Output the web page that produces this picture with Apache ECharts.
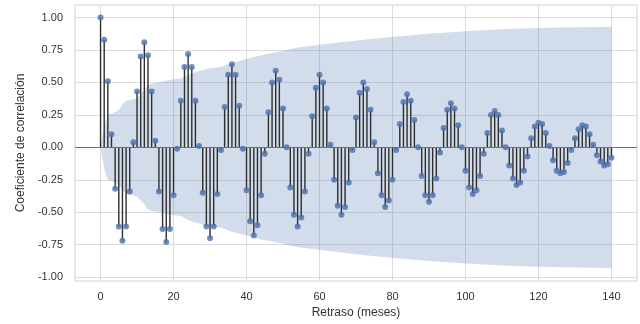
<!DOCTYPE html>
<html>
<head>
<meta charset="utf-8">
<script src="https://cdn.jsdelivr.net/npm/echarts@6/dist/echarts.min.js"></script>
<style>
  html, body { margin: 0; padding: 0; background: #fff; }
  #chart { width: 640px; height: 324px; }
</style>
</head>
<body>
<div id="chart"></div>
<script>
// valores de autocorrelación, retrasos 0..140
var acf = [
  1.00, 0.83, 0.51, 0.10, -0.32, -0.61, -0.72, -0.61, -0.34, 0.04,
  0.43, 0.70, 0.81, 0.71, 0.43, 0.05, -0.34, -0.63, -0.73, -0.63,
  -0.37, -0.01, 0.36, 0.62, 0.72, 0.62, 0.36, 0.01, -0.35, -0.61,
  -0.70, -0.61, -0.36, -0.02, 0.31, 0.56, 0.64, 0.56, 0.32, -0.01,
  -0.33, -0.57, -0.68, -0.60, -0.37, -0.05, 0.27, 0.50, 0.59, 0.52,
  0.30, 0.00, -0.31, -0.52, -0.61, -0.54, -0.34, -0.05, 0.24, 0.46,
  0.56, 0.50, 0.30, 0.02, -0.25, -0.45, -0.52, -0.46, -0.27, -0.02,
  0.23, 0.42, 0.50, 0.45, 0.29, 0.04, -0.20, -0.37, -0.46, -0.41,
  -0.25, -0.02, 0.18, 0.35, 0.41, 0.36, 0.21, 0.00, -0.22, -0.37,
  -0.42, -0.37, -0.24, -0.04, 0.15, 0.29, 0.34, 0.30, 0.17, 0.00,
  -0.18, -0.31, -0.36, -0.33, -0.22, -0.05, 0.11, 0.25, 0.28, 0.25,
  0.13, 0.00, -0.14, -0.24, -0.29, -0.27, -0.18, -0.07, 0.07, 0.16,
  0.19, 0.18, 0.11, 0.01, -0.10, -0.18, -0.20, -0.19, -0.12, -0.02,
  0.07, 0.14, 0.17, 0.16, 0.10, 0.02, -0.06, -0.11, -0.14, -0.13,
  -0.08
]

// banda de confianza
var bandLags = [0, 1, 2, 4, 5, 6, 7, 9, 10, 11, 12, 13, 14, 16, 19, 22, 24, 26, 30, 33, 36, 40, 44, 48, 54, 60, 66, 72, 81, 90, 100, 110, 120, 130, 140]
var bandUpper = [0, 0.16, 0.25, 0.27, 0.29, 0.33, 0.36, 0.37, 0.38, 0.41, 0.44, 0.48, 0.49, 0.50, 0.52, 0.53, 0.56, 0.58, 0.61, 0.62, 0.65, 0.68, 0.71, 0.73, 0.77, 0.79, 0.81, 0.83, 0.855, 0.875, 0.895, 0.91, 0.92, 0.925, 0.93]

var xTicks = [0, 20, 40, 60, 80, 100, 120, 140]
var yTicks = [-1, -0.75, -0.5, -0.25, 0, 0.25, 0.5, 0.75, 1]

var chart = echarts.init(document.getElementById('chart'))

var points = acf.map(function (v, i) { return [i, v] })
var upper = bandLags.map(function (l, i) { return [l, bandUpper[i]] })
var lower = bandLags.map(function (l, i) { return [l, -bandUpper[i]] })

var bandStyle = {
  type: 'line',
  symbol: 'none',
  silent: true,
  lineStyle: { width: 0 },
  areaStyle: { color: '#4C72B0', opacity: 0.25, origin: 0 },
  z: 1
}

chart.setOption({
  animation: false,
  textStyle: { fontFamily: 'Liberation Sans, Arial, sans-serif' },
  grid: {
    left: 75,
    right: 3,
    top: 5,
    bottom: 43,
    show: true,
    borderColor: '#d0d0d0',
    borderWidth: 1
  },
  xAxis: {
    type: 'value',
    min: -7,
    max: 147,
    name: 'Retraso (meses)',
    nameLocation: 'middle',
    nameGap: 26,
    nameTextStyle: { fontSize: 12, color: '#333' },
    axisLine: { show: false, onZero: false },
    axisTick: { show: false, customValues: xTicks },
    axisLabel: { customValues: xTicks, fontSize: 11, color: '#333', margin: 10 },
    splitLine: { show: true, lineStyle: { color: '#dcdcdc', width: 1 } }
  },
  yAxis: {
    type: 'value',
    min: -1.03,
    max: 1.097,
    name: 'Coeficiente de correlación',
    nameLocation: 'middle',
    nameGap: 48,
    nameTextStyle: { fontSize: 12, color: '#333' },
    axisLine: { show: false },
    axisTick: { show: false, customValues: yTicks },
    axisLabel: {
      customValues: yTicks,
      fontSize: 11,
      color: '#333',
      margin: 12,
      formatter: function (v) { return v.toFixed(2) }
    },
    splitLine: { show: true, lineStyle: { color: '#dcdcdc', width: 1 } }
  },
  series: [
    Object.assign({ data: upper }, bandStyle),
    Object.assign({ data: lower }, bandStyle),
    {
      type: 'bar',
      data: points,
      barWidth: 1.4,
      itemStyle: { color: '#2e2e2e' },
      silent: true,
      z: 2
    },
    {
      type: 'scatter',
      data: points,
      symbolSize: 6,
      itemStyle: { color: '#4C72B0' },
      z: 3,
      markLine: {
        silent: true,
        symbol: 'none',
        label: { show: false },
        lineStyle: { color: '#4C72B0', width: 1.2, type: 'solid' },
        data: [{ yAxis: 0 }]
      }
    }
  ]
})
</script>
</body>
</html>
